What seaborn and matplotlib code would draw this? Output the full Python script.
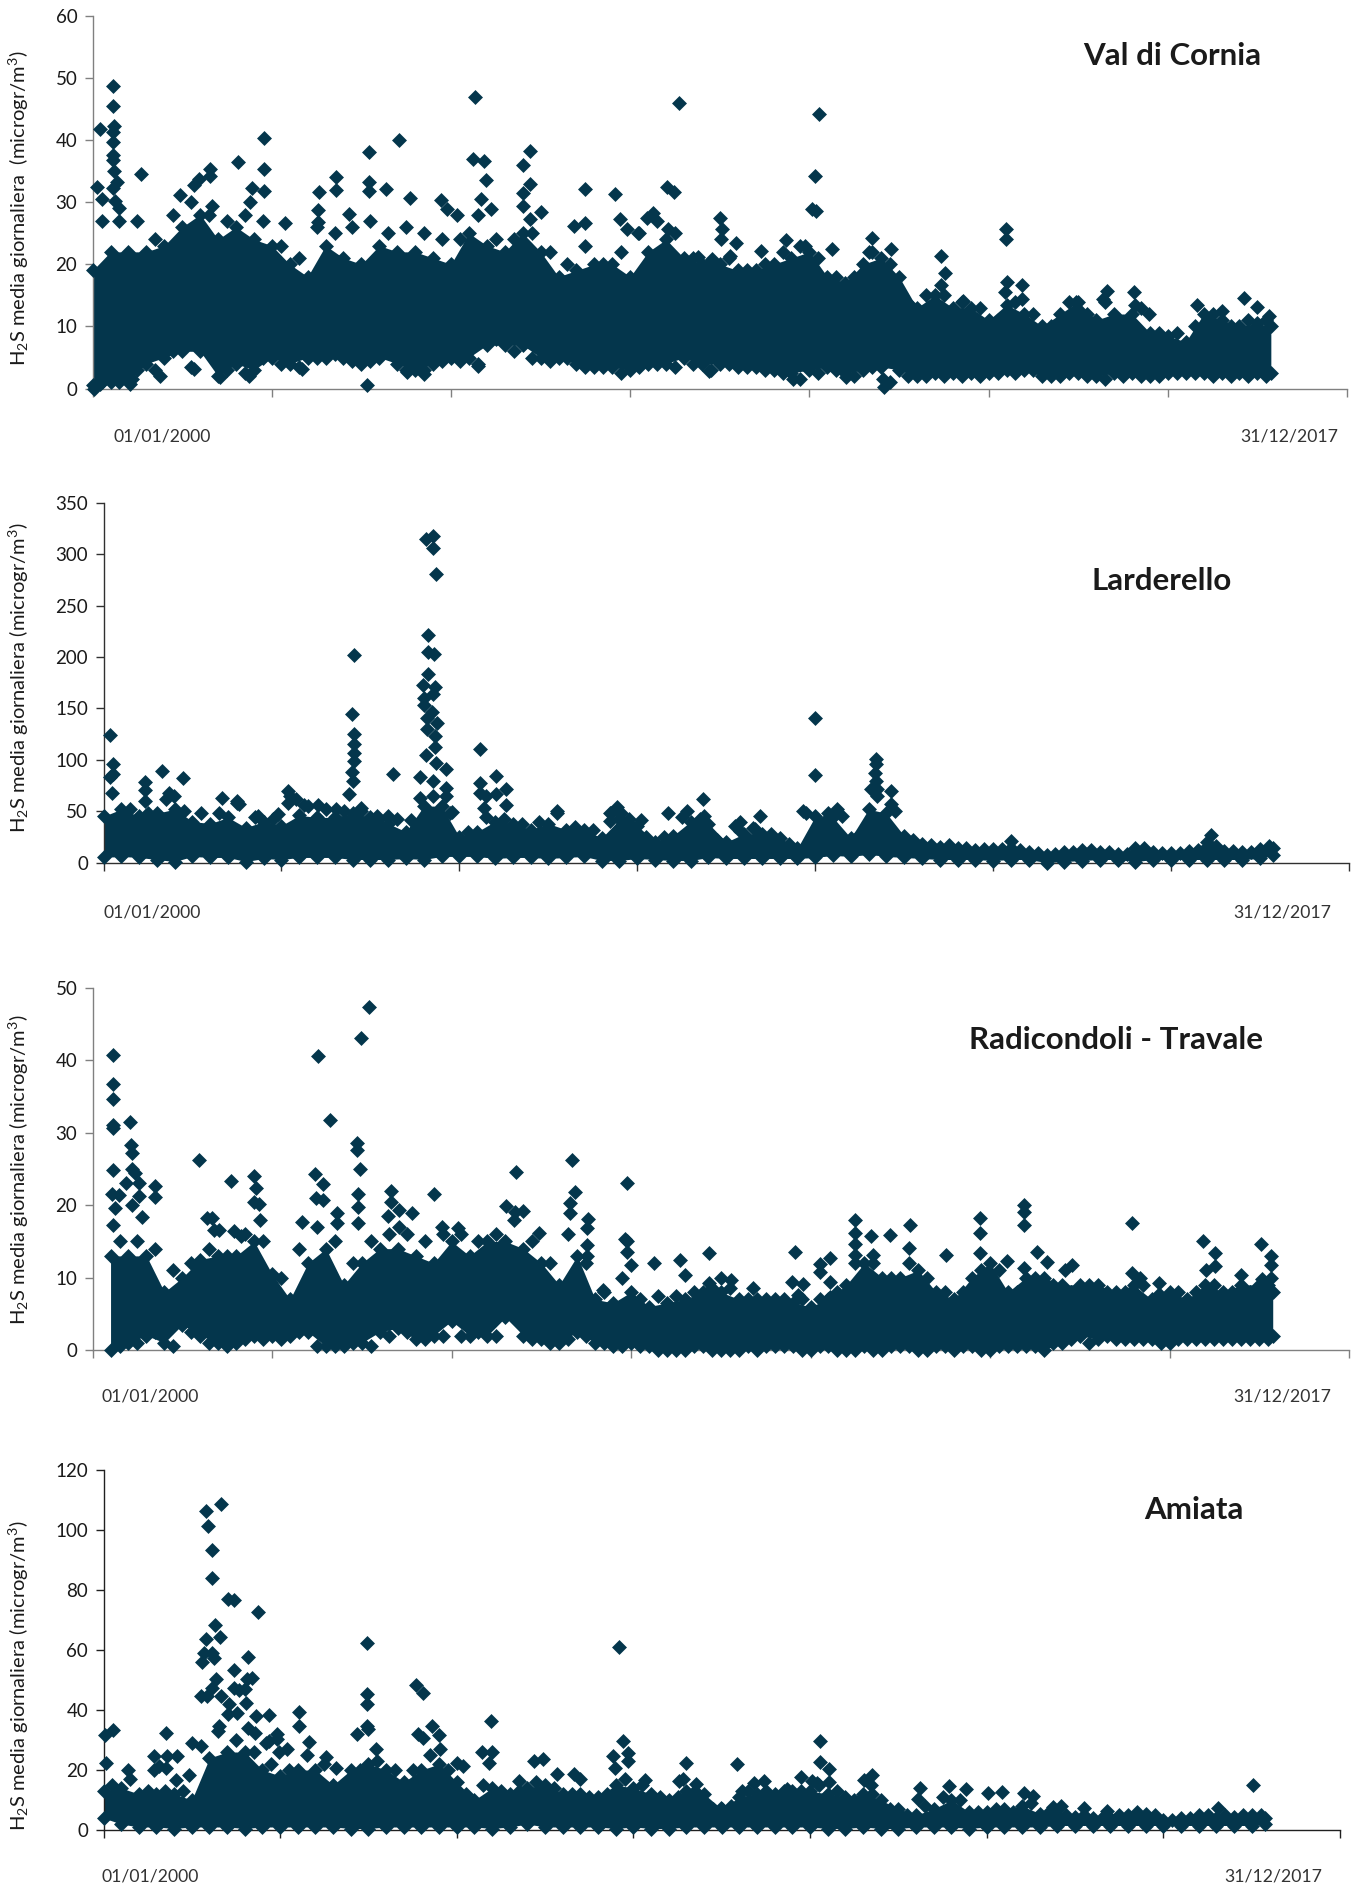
import matplotlib
matplotlib.use('Agg')
import matplotlib.pyplot as plt
import seaborn as sns

# days since 01/01/2000 of the points that stand clear of the dense band
vc_days = [116,116,121,44,116,116,116,116,121,269,136,27,116,51,123,148,959,959,959,809,654,654,596,567,891,881,487,668,
           1709,1540,1540,1540,1637,1770,1946,1975,2033,1358,1358,1261,1257,1257,1431,1075,2133,2121,2186,2198,2169,2225,
           2440,2399,2440,2399,2399,2440,2503,2750,2750,2685,2915,2944,2980,3045,3125,3094,3203,3242,3210,3271,
           4053,4031,4012,4036,3499,3513,3506,3590,3559,3458,3381,3422,3867,3728,3976,4125,4349,4458,4330,4735,4754,4735,
           5097,5097,5101,5186,5186,5089,4856,4571,5489,5658,5639,5812,5815,5897,6164,6302,6427,6499,6567,
           1533,4414,4410,3911,4205,3441,564,1169,2152,10,208,220,378,712,874,1850,1753,39]
vc_vals = [48.6,45.4,42.3,41.7,41.2,39.6,37.5,36.7,35,34.6,33.2,32.5,32.2,30.5,30.2,29.1,40.3,35.4,31.8,36.4,35.4,34.2,33.7,32.7,32.3,30,31.2,29.3,
           40,38,33.3,31.8,32.1,30.7,30.3,28.9,27.9,34.1,32,31.6,28.8,26.8,28.1,26.7,46.9,36.9,36.6,33.6,30.5,28.9,
           38.2,35.9,32.9,31.5,29.3,27.3,28.4,32.1,26.7,26.2,31.3,27.3,25.7,25,28.3,27.5,32.5,31.7,25.7,45.9,
           44.1,34.2,28.9,28.5,27.5,25.6,24,23.5,21.4,20.9,21.1,19.8,23.9,22.2,23,22.5,24.2,22.5,21.9,21.4,18.6,16.6,
           25.6,24.1,17.1,16.7,14.4,15.5,14.1,13.2,14,15.7,14.4,15.6,13.5,12,13.5,12.5,14.5,13.2,11.7,
           0.5,0.2,1.5,1.5,1.8,2.8,3.1,3.2,3.6,0,0.7,1.5,2.1,1.8,2,2.3,2.7,0.7]

la_days = [39,51,51,39,232,232,232,330,447,369,399,667,753,760,868,980,1039,1039,1083,1127,1205,1308,1406,1394,1406,1406,1406,1406,
           1394,1401,1381,1450,1626,1535,1597,1731,1822,1812,1853,1851,1870,1822,1858,1824,1797,1861,1853,1800,1800,1846,1817,1873,
           1817,1861,1861,1812,1870,1927,1780,1853,1780,1927,1927,1956,2117,2117,2208,2117,2208,2262,2262,2147,2139,2550,2885,2910,
           2844,2849,2956,3020,3174,4000,4000,4341,4341,4338,4341,4314,4346,4424,3367,3279,3377,3576,3688,3579,3664,3932,4122,4071,
           4424,5098,6226]
la_vals = [124,96,86,83,78,71,60,89,82,68,65,63,60,57,45,47,70,58,62,56,56,52.5,202,145,125,115,107,99,
           88,79,67,53.5,86,45,45,41.5,222,315,318,306,281,205,203,184,173,171,164,160,153,147,141,136,
           130,123,113,105,97,91,83,79,63,73,65,49,111,77,84,68,67,72,56,65,53.5,50,54.5,48.6,
           48.6,40.5,42,41,48.6,140.6,85,101,95.6,87.5,79,72,72,70,61.6,50,45,39.5,45,31,33,50,52,48.6,
           56.7,21,26.5]

ra_days = [116,116,116,111,116,210,213,218,111,220,237,184,256,348,348,106,147,256,123,220,273,116,595,771,899,909,897,926,636,667,675,704,788,825,933,
           1168,1255,1497,1540,1320,1475,1475,1490,1240,1284,1477,1477,1243,1284,1364,1361,1477,1664,1664,1647,1707,1780,1707,1900,1949,2034,
           2360,2304,2397,2353,2488,2669,2686,2662,2662,2759,2754,2754,2754,2977,2965,2977,2977,3001,3126,2844,3272,
           3302,3432,3434,3502,3557,3682,3916,3899,3959,3928,4053,4053,4108,4106,4106,4246,4248,4248,4248,4337,4445,4349,4349,4556,4549,4754,
           4944,4944,4946,5187,5187,5187,5096,5187,5259,5320,5416,5459,5792,5792,5837,5941,5941,6186,6254,6203,6254,6509,6567,6567,6567,6514,6396]
ra_vals = [40.8,36.7,34.6,31.1,30.6,31.5,28.3,27.2,24.9,25,24.4,23.1,23,22.7,21.1,21.5,21.4,21.3,19.6,20,18.4,17.3,26.3,23.3,24,22.4,20.5,20.2,18.2,18.2,16.6,16.6,16.4,15.7,18,
           17.7,40.6,43.1,47.4,31.8,28.6,27.6,25,24.3,22.9,21.5,19.8,21,20.7,18.9,17.5,17.5,21.9,20.5,18.5,19.4,18.9,17,21.5,17,16.8,
           24.6,19.9,19.2,19.1,16.1,26.2,21.8,20.3,18.9,18.1,16.9,14.5,13,23,15.4,15,13.6,11.8,12,8.3,12.4,
           10.4,13.4,9.3,9.9,9.6,8.6,13.5,9.4,9.1,7.6,11.9,10.8,12.7,9.4,7.3,17.9,16.1,14.7,13.1,15.8,15.9,13.1,9.9,17.2,14.1,13.1,
           18.3,16.2,13.4,20,19,17.3,12.3,11.3,13.5,12.2,11.1,11.8,17.5,10.7,9.9,9.2,7.7,15.1,13.4,11.1,11.6,14.6,13,11.8,10,9.8,10.4]

am_days = [668,579,589,614,616,702,739,876,631,579,660,614,567,817,555,624,736,840,813,636,736,766,803,614,665,552,587,808,710,864,935,754,705,655,820,857,980,935,980,918,
           1107,1107,1161,10,54,353,15,287,358,417,140,287,317,353,501,484,408,1041,992,1262,1318,1490,1490,1490,1490,1434,1500,1544,1770,1807,1782,1809,1861,1900,1905,2003,2035,
           2195,2141,2202,2183,2435,2489,2570,2354,2666,2698,2919,2939,2882,2968,2968,2894,3066,3258,3296,3279,3357,3589,3614,3680,3741,3870,3949,4012,4054,4054,4108,4108,4042,
           4303,4352,4347,3494,4623,4609,4787,4885,5005,5086,5210,5264,5374,5421,5548,5680,6310,6506]
am_vals = [108.8,106.3,101.4,93.2,83.9,77,76.6,72.6,68.3,63.7,64.4,59.1,59.1,57.8,56,57.4,53.5,50.8,50.2,50.4,47.4,46.7,47.1,47.4,44.7,44.7,44.7,42.5,41.9,38,38.4,39.1,38.6,34.7,34.1,32.3,31.9,29.7,30.3,28.9,
           39.4,34.7,29.5,31.7,33.3,32.2,22.5,24.7,24.7,24.7,20,20,21.4,20.8,28.9,18.3,16.7,27,26,24.2,20.8,62.2,45.5,41.9,34.7,31.9,33.6,26.9,48.2,45.8,31.9,30.8,34.7,31.6,26.9,22.5,21.4,
           36.4,26.1,26.1,22.3,23.1,23.6,18.6,16.4,18.6,17,60.9,29.7,24.7,25.8,23.1,20.8,16.7,16.4,22.2,17,15.5,22,12.9,15.6,16.3,13.6,17.8,16.4,29.7,22.8,20.4,16,15.6,
           16.8,18.4,15.1,7.3,13.9,10.3,14.7,13.6,12.5,12.7,12.3,11.4,7.8,8.1,7.2,6.2,7.2,15.1]

# upper and lower edge of the solid band, read every 100 days
band_days = [0,100,200,300,400,500,600,700,800,900,1000,1100,1200,1300,1400,1500,1600,1700,1800,1900,2000,2100,
             2200,2300,2400,2500,2600,2700,2800,2900,3000,3100,3200,3300,3400,3500,3600,3700,3800,3900,4000,4100,
             4200,4300,4400,4500,4600,4700,4800,4900,5000,5100,5200,5300,5400,5500,5600,5700,5800,5900,6000,6100,
             6200,6300,6400,6500,6575]
vc_top = [19,22,22,22,23,26,28,24,26,24,23,20,18,23,21,20,23,22,22,21,20,25,
          23,22,25,22,18,19,20,20,18,22,24,21,20,20,19,19,20,21,22,18,
          17,20,21,18,13,15,13,13,11,13.5,12,10,12,14,11,12,12,9,8.5,7.5,
          12,11,10,10.5,10]
vc_low = [0.5,1,1.5,4,5,6,6,2,4,3,5,4,5,5,5,4,5,4,3,4,5,5,
          7,7,7,5,5,4,3.5,3.5,3,4,4,5,4,4,3.5,3.5,3,2.5,3,3.5,
          2.5,3,3.5,3,2,2.5,2.5,2.5,2.5,3,3,2,2,2.5,2,2.5,2.5,2,2.5,2.5,
          2.5,2.5,2.5,2.5,2.5]
la_top = [45,52,45,48,52,40,38,44,34,40,36,46,44,44,48,44,38,30,55,55,25,30,
          40,38,32,38,32,32,24,42,36,20,26,40,38,20,28,28,24,14,45,44,
          24,52,48,26,18,15,14,12,13,14,10,7,10,12,10,8,14,10,9,11,
          20,11,10,13,14]
la_low = [5,6,5,3,1,6,5,5,1,4,3,5,5,5,3,3,3,4,3,6,6,6,
          4,5,5,4,5,6,2,2,4,3,2,2,5,4,4,4,4,4,5,7,
          6,8,6,5,4,3,3,3,2,3,3,0,1,2,3,3,1,3,3,3,
          3,3,3,4,7]
ra_top = [13,13,13,8,10,12.5,13,13,15,10.5,7,12,14,9,12,14,14,13,12,15,13,
          15,15,14,12,9,13,7,6.5,8,6,6.5,7,8,8,7,7,7,6.5,6,7,
          9,12,10,10,11,8,7,10,12,8,10,10,9,9,9,8,9,7,8,7,
          9,8,9,9,8]
ra_low = [0,1,2,1,3.5,2,1,1,2,2,2,2.5,0.5,0.5,1,2.5,3,1.5,2,4,2,
          2,4.5,2,1.5,1,2.5,1,0.5,1,0.5,0,0,0.5,0,0,0,0.5,0.5,0,0.5,
          0,0.5,0,0.5,0,0.5,0,0.5,0,0.5,0.5,0,1,2,1.5,1.5,1.5,1.5,1,1.5,
          1.5,1.5,1.5,1.5,2]
am_top = [13,14,12,12,12,10,24,26,26,20,18,20,20,15,20,22,20,16,20,22,16,10,
          14,12,14,15,12,12,11,15,14,12,10,13,12,7,11,12,12,13,13,12,
          11,12,10,7,5,7,10,6,6,7,8,5.5,5,4.5,4,4,5,5.5,3.5,4,
          5,4,4.5,5,4]
am_low = [4,2,1,1,0.5,1,1,1,0.5,1,1,1,1,1,0.5,0.5,1,1,1,1,1,1,
          0.5,1,2,1,1,1,1,0.5,1,0.5,0.5,1,1,1,1,1,1,1,1,0.5,
          0.5,1,0.5,0.5,1,1,1,0.5,1,1,1,1,1.5,1.5,1.5,1.5,1.5,1.5,1.5,1.5,
          1.5,1.5,1.5,1.5,2]

# rough outline of the loose points around the band, read between the band days
half_days = [50,150,250,350,450,550,650,750,850,950,1050,1150,1250,1350,1450,1550,1650,1750,1850,1950,2050,2150,
             2250,2350,2450,2550,2650,2750,2850,2950,3050,3150,3250,3350,3450,3550,3650,3750,3850,3950,4050,4150,
             4250,4350,4450,4550,4650,4750,4850,4950,5050,5150,5250,5350,5450,5550,5650,5750,5850,5950,6050,6150,
             6250,6350,6450,6550]
vc_up = [27,27,27,24,28,30,28,27,28,27,23,21,26,25,26,27,25,26,25,24,24,28,
         24,24,25,22,20,23,20,22,25,27,25,21,20,21,19,20,22,23,21,18,
         18,22,20,13,15,15,14,13,11,14,12,10,14,12,14,10,13,9,9,10,
         12,10,11,11]
vc_dn = [1,1,3,3,6,3.5,7,3,2.5,5,4,3.5,5,5.5,4.5,4.5,6,3,3,4.5,4.5,4,
         8,6,5,4.5,5,3.5,3.5,2.5,3.5,4,3.5,4,3,4,3.5,3,2.5,1.5,2.5,3,
         2,3.5,1,2,2,2,2,2,2.5,2.5,3,2,2.5,2,1.5,2,2,2,2.5,2.5,
         2,2,2,2]
la_up = [68,52,48,62,50,48,48,58,44,42,65,55,52,50,50,42,42,30,65,48,30,44,
         42,38,40,48,35,32,48,40,25,25,44,42,22,36,34,28,18,48,40,45,
         28,65,50,22,17,17,14,13,13,12,9,8,10,12,10,8,14,9,9,12,
         16,11,10,16]
ra_up = [15,15,14,11,12,14,13,16,15,10,14,17,15,12,15,16,16,15,16,16,15,
         16,18,15,12,16,12,8,10,7,7.5,7.5,8,8.5,8.5,7,7,7,7,7,8,
         12,12,10,12,10,8,8,11,11,8,10,9,8,9,8,8,9,6,8,8,
         9,8,8,9]
ra_dn = [0.5,1,2.5,0.5,2.5,1,0.5,1.5,1.5,1.5,2.5,0.5,0.5,1,0.5,2,2.5,1.5,2,2,2.5,
         2,4.5,1.5,1,1.5,2,1,0.5,0.5,0,0,0.5,0,0,0.5,0.5,0.5,0,0.5,0,
         0,0,0.5,0.5,0,0.5,0.5,0,0.5,0.5,0.5,1,1.5,1,2,1.5,1.5,1,1.5,1.5,
         1.5,1.5,1.5,1.5]
am_up = [15,17,13,13,13,28,33,30,26,22,20,25,22,14,20,23,20,20,25,20,12,15,
         13,13,16,14,12,11,12,17,15,11,11,13,7,8,13,13,13,13,15,13,
         10,12,7,5,8,11,10,6,7,6,9,6,5,5,4,5,6,5,3.5,4,
         5,5,5,5]

titles = ['Val di Cornia', 'Larderello', 'Radicondoli - Travale', 'Amiata']
y_labels = ['H$_2$S media giornaliera  (microgr/m$^3$)', 'H$_2$S media giornaliera (microgr/m$^3$)',
            'H$_2$S media giornaliera (microgr/m$^3$)', 'H$_2$S media giornaliera (microgr/m$^3$)']
y_ticks = [[0,10,20,30,40,50,60], [0,50,100,150,200,250,300,350], [0,10,20,30,40,50], [0,20,40,60,80,100,120]]
x_ticks = [0,1000,2000,3000,4000,5000,6000,7000]

W, H = 1357, 1887
COLOR = '#04364C'
MARKER = 58
sns.set_theme(style='white')
plt.rcParams['font.family'] = ['Lato', 'DejaVu Sans']
plt.rcParams['mathtext.default'] = 'regular'

fig = plt.figure(figsize=(W / 100, H / 100), dpi=100)


def panel(n, box, days, vals, top, low, up, dn, start, spine, title_xy, label_y, date_y, date_l, date_r):
    left, right, y_top, y_bottom = box
    ax = fig.add_axes([left / W, 1 - y_bottom / H, (right - left) / W, (y_bottom - y_top) / H])
    bd = band_days[start:]
    hd = half_days[start:]
    ax.fill_between(bd, low, top, color=COLOR, linewidth=0, zorder=2)
    xs = bd + bd + hd + hd[:len(dn)] + days
    ys = top + low + up + dn + vals
    sns.scatterplot(x=xs, y=ys, marker='D', s=MARKER, color=COLOR, linewidth=0, ax=ax, clip_on=False, zorder=3)

    ax.set_xlim(0, 7000)
    ax.set_ylim(0, y_ticks[n][-1])
    ax.set_xticks(x_ticks)
    ax.set_xticklabels([])
    ax.set_yticks(y_ticks[n])
    ax.tick_params(axis='both', direction='out', length=6, width=1, color=spine, left=True, bottom=True, pad=5)
    ax.tick_params(axis='y', labelsize=13.5, labelcolor='#1a1a1a')
    for side in ['top', 'right']:
        ax.spines[side].set_visible(False)
    for side in ['left', 'bottom']:
        ax.spines[side].set_color(spine)
        ax.spines[side].set_linewidth(1)

    fig.text(19 / W, 1 - label_y / H, y_labels[n], rotation=90, ha='center', va='center', fontsize=14.5, color='#1a1a1a')
    fig.text(title_xy[0] / W, 1 - title_xy[1] / H, titles[n], ha='center', va='center', fontsize=22.5, fontweight='bold', color='#1a1a1a')
    fig.text(date_l / W, 1 - date_y / H, '01/01/2000', ha='left', va='center', fontsize=12.7, color='#333333')
    fig.text(date_r / W, 1 - date_y / H, '31/12/2017', ha='right', va='center', fontsize=12.7, color='#333333')


panel(0, (92.6, 1347, 15.6, 388.6), vc_days, vc_vals, vc_top, vc_low, vc_up, vc_dn, 0, '#808080', (1172, 56), 208, 436, 113, 1338)
panel(1, (103.5, 1349, 503, 862.6), la_days, la_vals, la_top, la_low, la_up, [], 0, '#303030', (1162, 581), 678, 912, 103, 1331)
panel(2, (92.6, 1349, 988, 1350), ra_days, ra_vals, ra_top, ra_low, ra_up, ra_dn, 1, '#808080', (1116, 1040), 1170, 1397, 102, 1331)
panel(3, (103.5, 1340, 1470, 1830), am_days, am_vals, am_top, am_low, am_up, [], 0, '#202020', (1194, 1510), 1676, 1877, 102, 1322)

fig.savefig('out.png', dpi=100, facecolor='white')
